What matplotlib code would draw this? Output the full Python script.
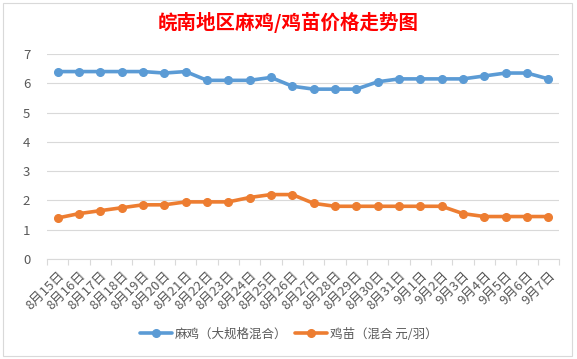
import matplotlib
matplotlib.use("Agg")
import matplotlib.pyplot as plt
from matplotlib.patches import Rectangle
import numpy as np

plt.rcParams['font.family'] = ['Noto Sans CJK SC', 'DejaVu Sans']

dates = ["8月15日", "8月16日", "8月17日", "8月18日", "8月19日", "8月20日", "8月21日",
         "8月22日", "8月23日", "8月24日", "8月25日", "8月26日", "8月27日", "8月28日",
         "8月29日", "8月30日", "8月31日", "9月1日", "9月2日", "9月3日", "9月4日",
         "9月5日", "9月6日", "9月7日"]
maji = [6.4, 6.4, 6.4, 6.4, 6.4, 6.35, 6.4, 6.1, 6.1, 6.1, 6.2, 5.9, 5.8, 5.8,
        5.8, 6.05, 6.15, 6.15, 6.15, 6.15, 6.25, 6.35, 6.35, 6.15]
jimiao = [1.4, 1.55, 1.65, 1.75, 1.85, 1.85, 1.95, 1.95, 1.95, 2.1, 2.2, 2.2, 1.9, 1.8,
          1.8, 1.8, 1.8, 1.8, 1.8, 1.55, 1.45, 1.45, 1.45, 1.45]
yticks = [0, 1, 2, 3, 4, 5, 6, 7]
title = "皖南地区麻鸡/鸡苗价格走势图"
names = ["麻鸡（大规格混合）", "鸡苗（混合 元/羽）"]

W, H = 577, 359
fig = plt.figure(figsize=(W / 100, H / 100), dpi=100)

# chart area border
fig.patches.append(Rectangle((3 / W, 3 / H), (572 - 3) / W, (356 - 3) / H,
                             transform=fig.transFigure, fill=False,
                             edgecolor='#D9D9D9', linewidth=0.8))

left, right, top, bottom = 47, 559, 54, 259
ax = fig.add_axes([left / W, (H - bottom) / H, (right - left) / W, (bottom - top) / H])

x = np.arange(len(dates))
ax.plot(x, maji, color='#5B9BD5', linewidth=2.6, marker='o', markersize=5.5,
        label=names[0], solid_capstyle='round')
ax.plot(x, jimiao, color='#ED7D31', linewidth=2.6, marker='o', markersize=5.5,
        label=names[1], solid_capstyle='round')

ax.set_xlim(-0.5, len(dates) - 0.5)
ax.set_ylim(0, 7)
ax.set_yticks(yticks)
ax.set_yticklabels([str(v) for v in yticks])
ax.yaxis.grid(True, color='#D9D9D9', linewidth=0.8)
ax.set_axisbelow(True)
for s in ['top', 'right', 'left']:
    ax.spines[s].set_visible(False)
ax.spines['bottom'].set_color('#D9D9D9')
ax.spines['bottom'].set_linewidth(0.8)
ax.tick_params(axis='y', length=0, labelsize=9.5, labelcolor='#595959', pad=12)

ax.set_xticks(x)
ax.set_xticklabels(dates, rotation=45, ha='right', rotation_mode='anchor',
                   fontsize=9.5, color='#595959')
ax.tick_params(axis='x', which='major', length=0, pad=7)
ax.set_xticks(np.arange(-0.5, len(dates), 1), minor=True)
ax.tick_params(axis='x', which='minor', length=4, color='#D9D9D9', width=0.8)

fig.text(0.5, 1 - 22 / H, title, ha='center', va='center', color='#FF0000',
         fontsize=14, fontweight='bold')

fig.legend(loc='center', bbox_to_anchor=(0.5, 1 - 334 / H), ncol=2, frameon=False,
           fontsize=9, handlelength=2.6, columnspacing=0.6, handletextpad=0.2,
           labelcolor='#595959')

fig.savefig("out.png", dpi=100)
